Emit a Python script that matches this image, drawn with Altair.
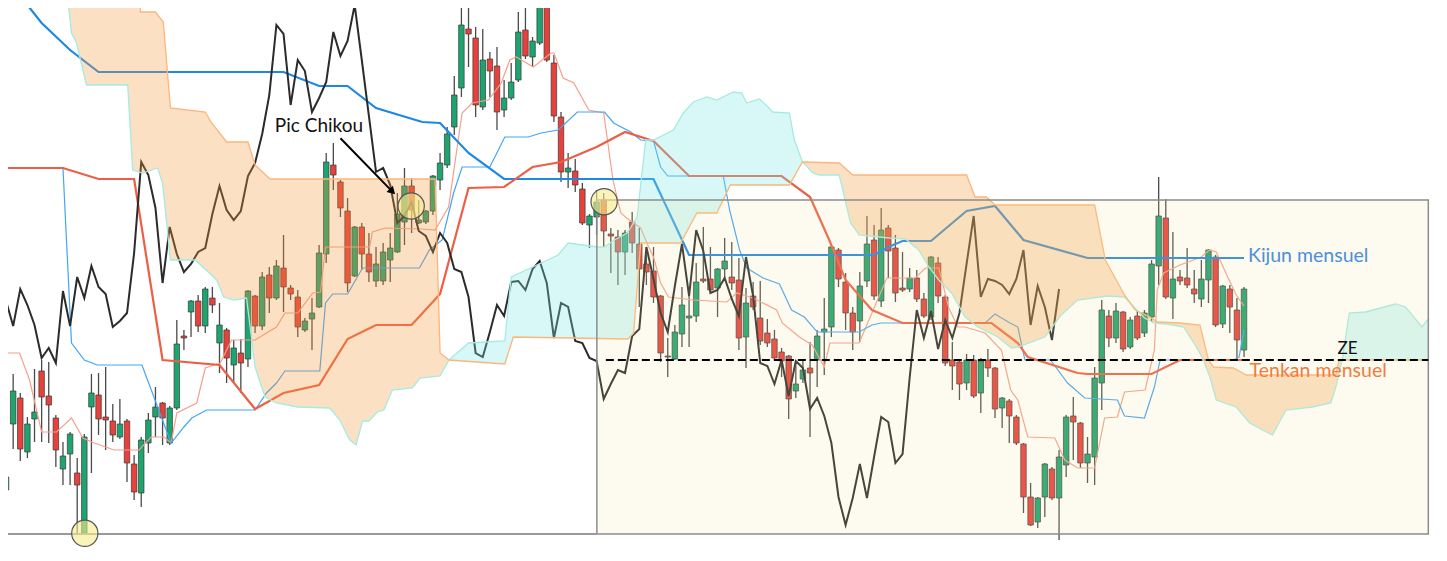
import altair as alt
import pandas as pd

# ---------------- candles (price units, 175 daily bars) ----------------
opens = [71,137,163,109,142,190,165,143,92,107,
         88,28,154,166,144,140,124,140,97,68,
         118,144,158,118,153,225,249,260,235,263,
         218,231,196,208,202,265,235,286,263,293,
         273,264,231,242,254,307,396,379,350,285,
         334,307,280,280,301,309,339,375,338,339,
         350,381,396,434,473,532,523,454,502,495,
         451,463,481,531,504,518,556,498,444,389,
         390,372,336,344,361,327,324,309,339,317,
         297,290,265,205,202,227,243,245,282,282,
         273,292,284,281,224,265,243,228,222,209,
         205,170,182,193,201,229,234,311,279,248,
         240,280,321,260,333,313,273,272,283,262,
         244,298,264,201,199,178,201,168,201,193,
         153,160,144,117,64,39,64,92,63,96,
         145,138,98,104,178,245,223,249,214,245,
         228,244,295,343,263,284,283,272,262,281,
         304,237,272,251,211]
highs = [98,187,168,144,192,201,199,146,119,129,
         103,127,187,188,194,157,162,142,106,124,
         148,174,159,155,241,231,261,266,274,274,
         258,233,221,222,271,266,289,294,301,326,
         276,271,243,263,316,408,418,381,363,335,
         338,328,314,318,328,368,393,383,361,351,
         386,408,434,485,566,566,534,532,509,514,
         481,498,549,556,524,564,564,506,449,408,
         402,378,347,371,368,333,331,331,349,333,
         306,314,266,223,236,274,273,298,334,314,
         293,323,319,303,273,279,280,242,231,213,
         206,200,201,219,231,263,316,313,288,254,
         289,345,336,353,336,326,309,293,291,268,
         305,304,266,219,201,207,206,203,212,194,
         164,162,146,118,78,64,98,94,111,146,
         164,139,124,194,261,251,258,250,244,251,
         251,301,384,362,329,291,313,291,301,312,
         306,276,276,263,274]
lows = [63,112,100,103,119,119,118,94,76,76,
        28,26,88,126,111,119,122,79,61,54,
        108,124,116,116,151,211,224,229,228,248,
        188,178,178,168,194,228,231,248,261,249,
        261,224,229,211,253,298,371,344,269,284,
        291,279,274,276,279,308,316,328,337,337,
        346,371,393,426,464,494,444,451,464,431,
        444,461,479,502,494,516,499,439,379,373,
        369,336,313,326,314,288,276,286,308,254,
        276,258,199,184,201,214,214,239,278,269,
        244,284,271,211,193,251,216,214,201,184,
        142,163,178,124,174,186,224,274,231,211,
        219,274,261,254,283,259,269,269,259,243,
        241,258,195,171,161,171,163,148,184,143,
        133,118,116,48,35,33,44,61,21,84,
        101,93,78,76,151,214,218,209,212,221,
        224,239,276,262,242,276,273,258,254,258,
        234,233,228,202,204]
closes = [84,170,112,137,149,164,156,111,105,127,
          76,124,168,142,141,126,137,98,69,121,
          141,154,143,153,217,223,260,235,272,256,
          236,203,213,198,270,235,284,263,295,274,
          267,234,240,248,308,399,386,353,278,334,
          307,289,297,309,313,347,375,351,341,350,
          385,398,427,466,536,527,456,501,490,449,
          463,479,529,505,520,556,501,445,389,393,
          376,338,345,359,330,325,309,328,318,292,
          289,264,208,204,229,256,245,279,280,271,
          292,300,278,223,258,254,220,218,203,200,
          162,177,191,188,225,232,314,282,248,229,
          275,317,265,331,310,268,271,283,262,245,
          304,265,198,195,177,201,165,200,193,152,
          163,145,118,64,36,63,97,63,104,144,
          139,98,107,183,251,223,250,212,241,223,
          248,297,345,264,282,280,276,267,282,311,
          236,275,254,221,272]

CHIKOU_SHIFT = 26

# ---------------- daily Ichimoku lines (bar index, price) ----------------
tenkan = [(0,208),(1.9,208),(3.3,181),(5,129),(7.1,129),(9.2,143),(10.8,123),(12.4,118),
          (15.2,111),(18.7,111),(20.4,124),(22.2,124),(23.2,118),(24,148),(26.8,158),(28,193),
          (30.1,198),(31.7,221),(35,221),(38,234),(39.2,248),(41,248),(43.1,268),(44.2,269),
          (44.9,314),(51.1,314),(51.5,329),(53.3,333),(58.5,332),(60.3,331),(62.2,354),(64.1,448),
          (65.5,458),(67.8,461),(69.6,478),(70.8,501),(71.7,504),(74.1,494),(76.6,508),(77,508),
          (78.3,483),(79.8,478),(81.9,451),(84,448),(85.3,381),(86.4,348),(87.4,342),(89.2,333),
          (90.2,316),(91,304),(92,278),(93.1,264),(96.6,261),(101.3,259),(102.7,268),(105,263),
          (108.3,251),(109.1,238),(111.5,224),(113.3,216),(115,194),(115.8,218),(119.9,218),
          (123.8,283),(127.8,283),(129.2,293),(131.1,293),(132.5,253),(133.8,234),(134.8,234),
          (137.6,228),(139.9,211),(141.2,171),(142.2,161),(143.6,124),(147.4,123),(148.8,101),
          (150.6,93),(153,93),(154.4,143),(156.2,144),(157.2,169),(160.1,171),(161.4,211),
          (161.8,271),(162.7,288),(165,296),(168,304),(169.1,311),(170.1,309),(171.9,281),
          (172.9,266),(174,255)]
kijun = [(0,393),(8,393),(9.2,218),(11,201),(12.8,196),(19.1,196),(23.2,118),(25,134),(26.1,143),
         (28.2,151),(35,151),(36.6,168),(38,178),(39.2,190),(44.1,190),(44.9,258),(45.9,267),
         (48,267),(50.1,293),(58.1,293),(59.5,311),(61.3,321),(62.9,368),(64.1,394),(68,394),
         (70.1,424),(73.4,424),(75.2,428),(77.6,431),(80.3,449),(84.1,449),(85.4,438),(87.8,429),
         (89.2,421),(91,420),(92,394),(93,385),(100.8,385),(101.7,351),(103.1,311),(104.1,293),
         (106.4,283),(108.7,277),(110.4,251),(112.2,244),(114,229),(119.9,229),(121.7,236),
         (123,238),(137.6,238),(139,247),(141.1,238),(142.2,234),(143.2,201),(146.8,201),
         (149.2,178),(151.6,163),(156.2,161),(157.2,145),(160,143),(161.4,174),(162.2,201),
         (172.5,201),(173.3,204),(174,231)]

# ---------------- monthly lines ----------------
tenkan_monthly = [(0,393),(8,393),(13,382),(18,382),(22,201),(30,196),(35,152),(39,168),(44,176),
                  (48,222),(52,236),(57,236),(61,267),(65,373),(70,374),(74,394),(78,399),(83,414),
                  (87,429),(91,420),(96,385),(109,385),(113,364),(115.7,321),(118,281),(121.7,251),
                  (126,238),(138.5,238),(142.2,218),(143.6,204),(150.6,188),(152,187),(161,187),
                  (165,201),(174,201)]
kijun_monthly = [(0,583),(5,538),(9,511),(13,489),(39,489),(44,475),(48,475),(52,453),(58.5,439),
                 (61,438),(65,408),(70,382),(91,382),(96,306),(122,306),(124,314),(126,320),
                 (130,320),(135,350),(139,355),(143,321),(152,303),(174,303)]

# ---------------- cloud spans (projected 26 bars ahead) ----------------
span_a = [(0,591),(8.7,561),(9.2,528),(9.9,518),(11.3,476),(17.1,476),(17.8,391),(19.2,388),
          (21.3,393),(22,378),(23.1,301),(26.6,301),(29.6,281),(30.6,264),(32,261),(33.8,263),
          (35,194),(36.4,164),(38,158),(41,154),(45.5,153),(46.9,141),(48.3,121),(49.2,116),
          (50.1,140),(51,140),(52.2,149),(53.1,151),(54.3,171),(57.1,173),(58.2,183),(61,185),
          (62.25,201),(65,218),(70.1,220),(71,284),(73.1,291),(75.2,298),(77.6,306),(79,318),
          (83.1,314),(84.1,314),(85.5,321),(87.3,328),(88.7,344),(89.9,421),(91,421),(93.8,431),
          (95.2,448),(96.6,459),(98.5,464),(99.9,461),(102.2,469),(103.4,468),(104.1,458),
          (105.9,462),(107.8,449),(110.1,448),(110.8,421),(111.93,399),(113.4,388),(114.3,386),
          (117.1,386),(118.7,338),(119.9,326),(124.1,323),(126.4,322),(128.3,311),(129.7,294),
          (131.1,281),(132.9,268),(134.8,244),(136.6,234),(139.4,224),(141.3,213),(142.2,214),
          (146,224),(148.3,246),(150.6,261),(154.8,265),(157.2,264),(160,243),(161.4,238),
          (163.2,237),(165.5,234),(167.3,214),(168.3,201),(169.2,184),(170.1,161),(172.9,154),
          (174.8,138),(176.6,131),(178,126),(179.9,151),(183.6,154),(186.2,158),(186.9,174),
          (187.8,201),(188.8,248),(191.1,249),(193.2,253),(195.3,257),(196.7,254),(199,234),
          (200,243)]
span_b = [(0,611),(18.1,611),(18.9,549),(21,549),(22.1,539),(23.1,453),(28,449),(28.9,438),
          (31,419),(34,419),(35,396),(37.1,382),(60.3,382),(61,208),(62.25,201),(70.1,197),
          (71.3,224),(87.4,222),(88.2,228),(89.2,318),(94.8,318),(97.1,348),(99.9,348),
          (101.8,376),(110.1,376),(111.93,399),(117.1,398),(119,386),(135,386),(136.2,364),
          (137.8,364),(139,356),(153,356),(154.5,301),(157.2,266),(158.7,251),(160.8,244),
          (161.8,239),(165,238),(167.8,236),(169,201),(169.7,194),(172.5,193),(174.3,186),
          (186.9,186),(187.35,201),(187.8,201),(200,201)]
cloud_regions = [(0, 62.25, "bear"), (62.25, 111.93, "bull"),
                 (111.93, 187.8, "bear"), (187.8, 200, "bull")]

# ---------------- annotations (bar index, price) ----------------
zone_box = {"t": 83.04, "t2": 199.9, "p": 27, "p2": 361}
ze_level = {"t": 84.3, "t2": 199.9, "p": 201}
base_line = {"t": -1, "t2": 83.04, "p": 27}
circles_t = [11.07, 56.94, 84.06]
circles_p = [27.7, 355, 359.3]
labels = [
    {"t": 37.78, "p": 429.3, "text": "Pic Chikou", "color": "#111111", "size": 19},
    {"t": 174.55, "p": 299.3, "text": "Kijun mensuel", "color": "#4A90D9", "size": 19.5},
    {"t": 174.78, "p": 184.3, "text": "Tenkan mensuel", "color": "#F07D3C", "size": 19.5},
    {"t": 187.12, "p": 207, "text": "ZE", "color": "#111111", "size": 17},
]
arrow = {"t": 47.0, "p": 422.7, "t2": 54.3, "p2": 369.4}

# ---------------- build data ----------------
n = len(opens)
candles = pd.DataFrame({"t": list(range(n)), "open": opens, "high": highs,
                        "low": lows, "close": closes})
candles["dir"] = ["up" if c >= o else "down" for o, c in zip(opens, closes)]

chikou = pd.DataFrame({"t": [i - CHIKOU_SHIFT for i in range(CHIKOU_SHIFT - 1, n)],
                       "p": closes[CHIKOU_SHIFT - 1:]})


def pts(pairs):
    return pd.DataFrame(pairs, columns=["t", "p"])


rows = []
k = 0
for ri, (ta, tb, kind) in enumerate(cloud_regions):
    seq = [q for q in span_b if ta <= q[0] <= tb] + [q for q in span_a if ta <= q[0] <= tb][::-1]
    for t, p in seq:
        rows.append({"t": t, "p": p, "k": k, "region": ri, "kind": kind})
        k += 1
cloud_poly = pd.DataFrame(rows)

XS = alt.Scale(domain=[0.977, 200.698], nice=False, zero=False)
YS = alt.Scale(domain=[8, 553], nice=False, zero=False)


def X(f="t"):
    return alt.X(f"{f}:Q", scale=XS, axis=None)


def Y(f="p"):
    return alt.Y(f"{f}:Q", scale=YS, axis=None)


def line(df, color, width, **kw):
    return alt.Chart(df).mark_line(clip=True, color=color, strokeWidth=width, **kw).encode(
        x=X(), y=Y(), order="t:Q")


wicks = alt.Chart(candles).mark_rule(clip=True, color="#4a4a4a", strokeWidth=1.3).encode(
    x=X(), y=Y("low"), y2="high:Q")
bodies = alt.Chart(candles).mark_bar(clip=True, size=5.5, orient="vertical",
                                     stroke="#3a3a3a", strokeWidth=0.7).encode(
    x=X(), y=Y("open"), y2="close:Q",
    color=alt.Color("dir:N", scale=alt.Scale(domain=["up", "down"], range=["#1DA46F", "#E8403A"]),
                    legend=None))

tenkan_l = line(pts(tenkan), "#F4A08A", 1.2)
kijun_l = line(pts(kijun), "#42A5F5", 1.2)
kijun_m = line(pts(kijun_monthly), "#1E88E5", 2.2)
tenkan_m = line(pts(tenkan_monthly), "#EC5F45", 2.2)
chikou_l = line(chikou, "#2b2b2b", 2.0)

cloud_fill = alt.Chart(cloud_poly).mark_line(clip=True, strokeOpacity=0, fillOpacity=0.3).encode(
    x=X(), y=Y(), order="k:Q", detail="region:N",
    fill=alt.Fill("kind:N", scale=alt.Scale(domain=["bear", "bull"], range=["#F5983A", "#7DE8E8"]),
                  legend=None))
edge_a = line(pts(span_a), "#A4EBE1", 1.3)
edge_b = line(pts(span_b), "#FCB57A", 1.3)

box_df = pd.DataFrame([zone_box])
box_fill = alt.Chart(box_df).mark_rect(clip=True, color="#EFDC9C", opacity=0.15).encode(
    x=X(), x2="t2:Q", y=Y(), y2="p2:Q")
box_stroke = alt.Chart(box_df).mark_rect(clip=True, fillOpacity=0, stroke="#8c8c8c",
                                         strokeWidth=1.5).encode(
    x=X(), x2="t2:Q", y=Y(), y2="p2:Q")
base = alt.Chart(pd.DataFrame([base_line])).mark_rule(clip=True, color="#999999", strokeWidth=2).encode(
    x=X(), x2="t2:Q", y=Y())
ze = alt.Chart(pd.DataFrame([ze_level])).mark_rule(clip=True, color="#000000", strokeWidth=2,
                                                    strokeDash=[8, 4]).encode(
    x=X(), x2="t2:Q", y=Y())

circ = alt.Chart(pd.DataFrame({"t": circles_t, "p": circles_p})).mark_point(
    clip=True, shape="circle", size=690, filled=True, fill="#F7EC8C", fillOpacity=0.6,
    stroke="#555555", strokeWidth=1.2, strokeOpacity=1).encode(x=X(), y=Y())

arrow_df = pd.DataFrame([arrow])
arrow_line = alt.Chart(arrow_df).mark_rule(clip=True, color="#000000", strokeWidth=2).encode(
    x=X(), y=Y(), x2="t2:Q", y2="p2:Q")
arrow_head = alt.Chart(arrow_df).mark_point(clip=True, shape="triangle-up", filled=True,
                                            size=80, angle=135.5, color="#000000",
                                            opacity=1).encode(x=X("t2"), y=Y("p2"))

text_layers = []
for lab in labels:
    text_layers.append(
        alt.Chart(pd.DataFrame([lab])).mark_text(
            align="left", baseline="alphabetic", font="Lato", fontSize=lab["size"],
            color=lab["color"]).encode(x=X(), y=Y(), text="text:N"))

chart = alt.layer(
    wicks, bodies, tenkan_l, kijun_l, kijun_m, tenkan_m, chikou_l,
    cloud_fill, edge_a, edge_b, box_fill, box_stroke, base, ze, circ,
    arrow_line, arrow_head, *text_layers
).properties(
    width=1431, height=545, padding=0, autosize=alt.AutoSizeParams(type="none")
).configure_view(stroke=None)

chart.save("out.html", embed_options={"renderer": "svg", "actions": False})
